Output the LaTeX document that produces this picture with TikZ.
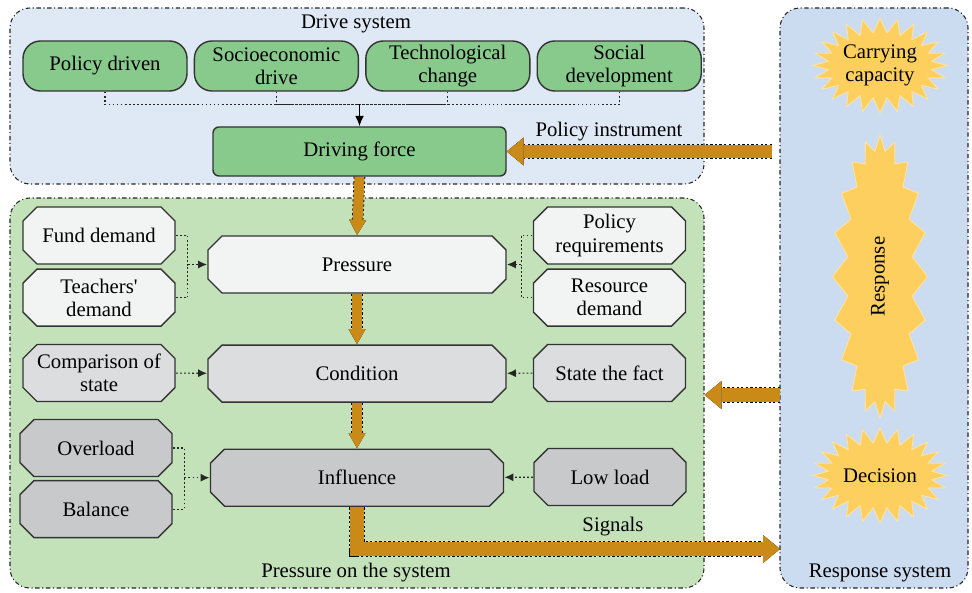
\documentclass[tikz,border=0pt]{standalone}
\usepackage{fontspec}
\setmainfont{Liberation Serif}
\usetikzlibrary{positioning,shapes.symbols,arrows.meta}

\definecolor{drivebg}{HTML}{DFE9F5}
\definecolor{respbg}{HTML}{CCDCF0}
\definecolor{presbg}{HTML}{C3E2B9}
\definecolor{greenbox}{HTML}{88C98C}
\definecolor{lightoct}{HTML}{F2F3F3}
\definecolor{midoct}{HTML}{DCDDDF}
\definecolor{darkoct}{HTML}{C8C9CB}
\definecolor{fatorange}{HTML}{C98A17}
\definecolor{burst}{HTML}{FDCF5F}
\definecolor{edge}{HTML}{333333}

\tikzset{
  system/.style={draw=black!85, line width=0.6pt, rounded corners=0.4cm,
    dash pattern=on 2.5pt off 1.5pt on 0.6pt off 1.5pt},
  greenround/.style={draw=edge, fill=greenbox, line width=0.8pt, rounded corners=0.35cm,
    minimum width=3.28cm, minimum height=1cm, inner sep=1pt, align=center},
  % octagon drawn inside the node's rectangle
  octbox/.style={minimum width=3.04cm+0.8pt, minimum height=1.14cm+0.8pt,
    inner sep=1pt, align=center,
    path picture={
      \draw[draw=edge, line width=0.8pt, fill=#1]
        ([xshift=0.28cm+0.4pt, yshift=-0.4pt]path picture bounding box.north west)
        -- ([xshift=-0.28cm-0.4pt, yshift=-0.4pt]path picture bounding box.north east)
        -- ([xshift=-0.4pt, yshift=-0.28cm-0.4pt]path picture bounding box.north east)
        -- ([xshift=-0.4pt, yshift=0.28cm+0.4pt]path picture bounding box.south east)
        -- ([xshift=-0.28cm-0.4pt, yshift=0.4pt]path picture bounding box.south east)
        -- ([xshift=0.28cm+0.4pt, yshift=0.4pt]path picture bounding box.south west)
        -- ([xshift=0.4pt, yshift=0.28cm+0.4pt]path picture bounding box.south west)
        -- ([xshift=0.4pt, yshift=-0.28cm-0.4pt]path picture bounding box.north west)
        -- cycle;}},
  mainoct/.style={octbox=#1, minimum width=5.96cm+0.8pt},
  sunburst/.style={starburst, starburst points=24, starburst point height=0.3cm,
    random starburst=0, fill=burst, draw=burst!60!white, line width=0.5pt,
    minimum width=2.28cm, minimum height=1.9cm, inner sep=0pt, align=center},
  dotline/.style={draw=black!85, line width=0.6pt, dash pattern=on 1pt off 1.3pt},
  dotarrow/.style={dotline, -{Latex[length=5pt,width=4.5pt]}},
  vfat/.style={draw=fatorange, line width=0.2cm,
    -{Triangle[width=0.34cm,length=0.3cm,line width=0pt]},
    preaction={draw=black, line width=0.2cm+0.9pt, dash pattern=on 1.3pt off 1.3pt}},
  hfat/.style={draw=fatorange, line width=0.27cm, line join=miter,
    -{Triangle[width=0.56cm,length=0.34cm,line width=0pt]},
    preaction={draw=black, line width=0.27cm+0.9pt, dash pattern=on 1.3pt off 1.3pt}},
}

\begin{document}
\begin{tikzpicture}[font=\fontsize{11.8pt}{13.2pt}\selectfont]
\useasboundingbox (0,0) rectangle (19.44,-11.84);

% system boxes
\node[system, fill=drivebg, minimum width=13.88cm, minimum height=3.52cm] (drivesys) at (7.14,-1.92) {};
\node[system, fill=presbg, minimum width=13.88cm, minimum height=7.8cm] (pressys) at (7.14,-7.86) {};
\node[system, fill=respbg, minimum width=3.76cm, minimum height=11.6cm] (respsys) at (17.48,-5.96) {};
\node (drivelab) at (7.12,-0.48) {Drive system};
\node (preslab) at (7.12,-11.46) {Pressure on the system};
\node (resplab) at (17.6,-11.46) {Response system};

% drive system
\node[greenround] (poldrive) at (2.1,-1.32) {Policy driven};
\node[greenround, right=0.12cm of poldrive] (socio) {Socioeconomic\\drive};
\node[greenround, right=0.12cm of socio] (techno) {Technological\\change};
\node[greenround, right=0.12cm of techno] (socdev) {Social\\development};
\node[greenround, rounded corners=0.12cm, minimum width=5.86cm, minimum height=0.98cm] (drivforce) at (7.19,-3.03) {Driving force};
\coordinate (bus) at ([yshift=0.44cm]drivforce.north);
\draw[dotline] (poldrive.south) |- (bus);
\draw[dotline] (socio.south) |- (bus);
\draw[dotline] (techno.south) |- (bus);
\draw[dotline] (socdev.south) |- (bus);
\draw[line width=0.7pt, -{Latex[length=6pt,width=5pt]}] (bus) -- (drivforce.north);

% pressure row
\node[mainoct=lightoct] (pressure) at (7.14,-5.29) {Pressure};
\node[octbox=lightoct] (fund) at (1.98,-4.71) {Fund demand};
\node[octbox=lightoct, below=0.06cm of fund] (teach) {Teachers\textquotesingle\\demand};
\node[octbox=lightoct] (polreq) at (12.19,-4.71) {Policy\\requirements};
\node[octbox=lightoct, below=0.06cm of polreq] (resdem) {Resource\\demand};
\coordinate (pjl) at ([xshift=-0.38cm]pressure.west);
\coordinate (pjr) at ([xshift=0.28cm]pressure.east);
\draw[dotline] (fund.east) -| (pjl);
\draw[dotline] (teach.east) -| (pjl);
\draw[dotarrow] (pjl) -- (pressure.west);
\draw[dotline] (polreq.west) -| (pjr);
\draw[dotline] (resdem.west) -| (pjr);
\draw[dotarrow] (pjr) -- (pressure.east);

% condition row
\node[mainoct=midoct, below=1.0cm of pressure] (condition) {Condition};
\node[octbox=midoct] (compare) at (1.98,-7.46) {Comparison of\\state};
\node[octbox=midoct] (fact) at (12.19,-7.46) {State the fact};
\draw[dotarrow] (compare) -- (condition);
\draw[dotarrow] (fact) -- (condition);

% influence row
\node[mainoct=darkoct, minimum width=5.86cm+0.8pt, below=0.9cm of condition] (influence) {Influence};
\node[octbox=darkoct] (overload) at (1.92,-8.96) {Overload};
\node[octbox=darkoct, below=0.04cm of overload] (balance) {Balance};
\node[octbox=darkoct] (lowload) at (12.2,-9.54) {Low load};
\coordinate (ijl) at ([xshift=-0.5cm]influence.west);
\draw[dotline] (overload.east) -| (ijl);
\draw[dotline] (balance.east) -| (ijl);
\draw[dotarrow] (ijl) -- (influence.west);
\draw[dotarrow] (lowload) -- (influence);

% response system
\node[sunburst] (carry) at (17.6,-1.31) {Carrying\\capacity};
\node[sunburst, rotate=90, minimum width=5.66cm, minimum height=1.9cm, starburst points=20] (response) at (17.6,-5.53) {Response};
\node[sunburst] (decision) at (17.6,-9.51) {Decision};

% fat arrows
\draw[vfat] (drivforce.south) -- (pressure.north);
\draw[vfat] (pressure.south) -- (condition.north);
\draw[vfat] (condition.south) -- (influence.north);
\coordinate (polstart) at (15.44,-3.03);
\draw[hfat] (polstart) -- (drivforce.east);
\node (polinst) at (12.18,-2.64) {Policy instrument};
\coordinate (respstart) at (15.6,-7.9);
\draw[hfat] (respstart) -- (pressys.east |- respstart);
\coordinate (sigend) at (15.6,-10.98);
\draw[hfat] (influence.south) |- (sigend);
\node (signals) at (12.26,-10.54) {Signals};
\end{tikzpicture}
\end{document}
